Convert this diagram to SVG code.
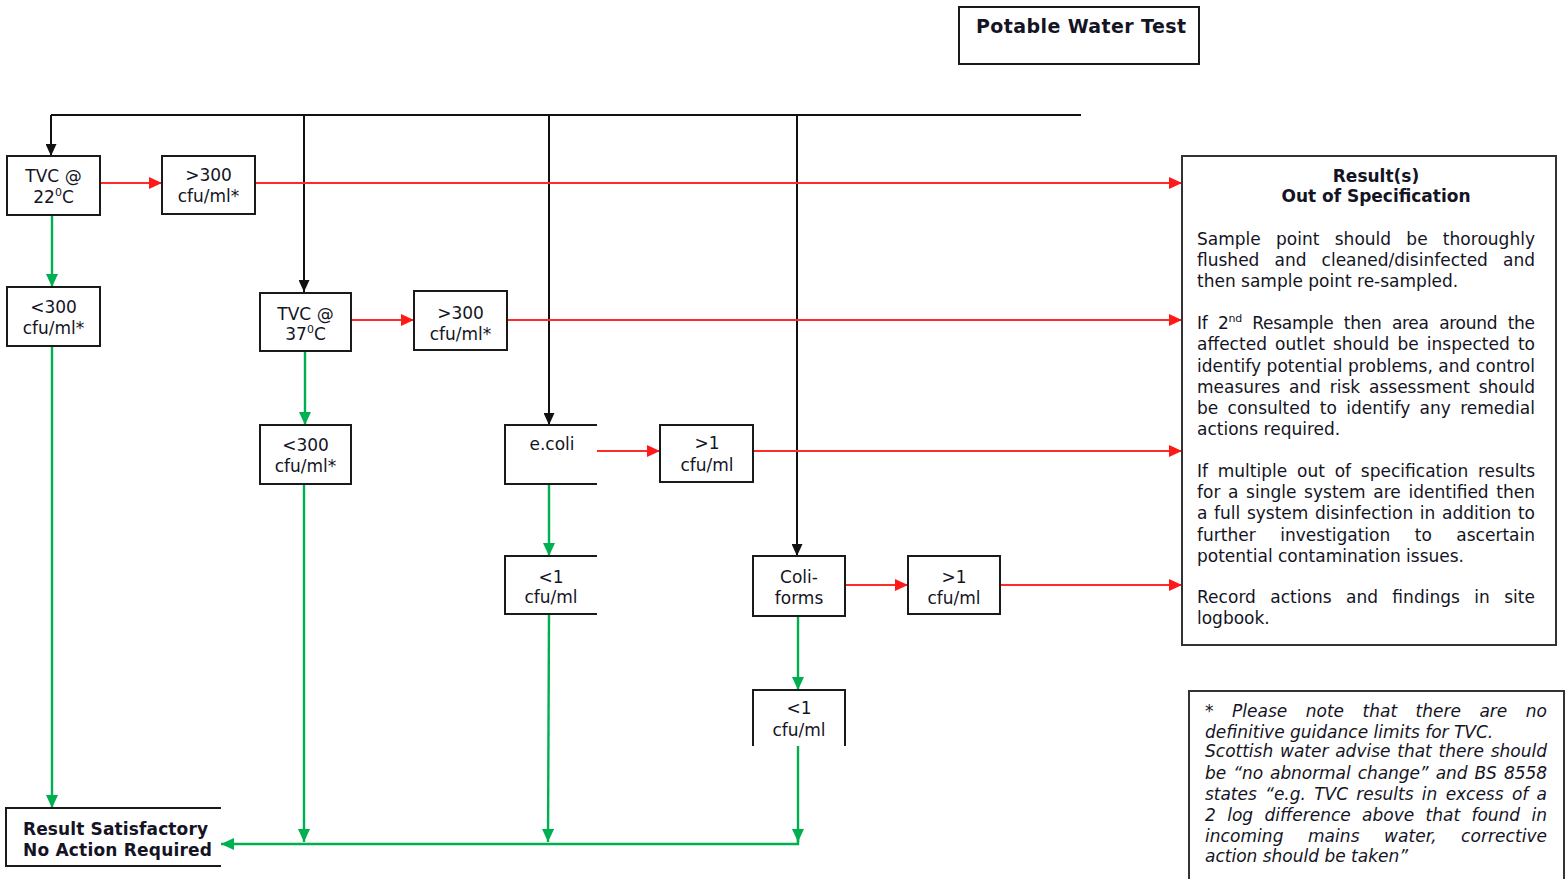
<svg xmlns="http://www.w3.org/2000/svg" width="1566" height="879" viewBox="0 0 1566 879">
  <style>
    .box { fill: #fff; stroke: #1a1a1a; stroke-width: 2; }
    .open { fill: none; stroke: #1a1a1a; stroke-width: 2; }
    .panel { fill: #fff; stroke: #333; stroke-width: 2; }
    .t { font-family: "DejaVu Sans", Verdana, sans-serif; font-size: 17px; fill: #141424; }
    .ttl { font-size: 19px; }
    .c { text-anchor: middle; }
    .b { font-weight: bold; }
    .it { font-style: italic; }
    .blk { fill: none; stroke: #111; stroke-width: 2; }
    .red { fill: none; stroke: #ff2a2a; stroke-width: 2; }
    .grn { fill: none; stroke: #00b050; stroke-width: 2.4; }
  </style>
  <defs>
    <marker id="ah-blk" markerUnits="userSpaceOnUse" markerWidth="12" markerHeight="11" refX="12" refY="5.5" orient="auto">
      <path d="M0,0 L12,5.5 L0,11 z" fill="#111"/>
    </marker>
    <marker id="ah-red" markerUnits="userSpaceOnUse" markerWidth="13" markerHeight="12" refX="13" refY="6" orient="auto">
      <path d="M0,0 L13,6 L0,12 z" fill="#ff1a1a"/>
    </marker>
    <marker id="ah-grn" markerUnits="userSpaceOnUse" markerWidth="13" markerHeight="12" refX="13" refY="6" orient="auto">
      <path d="M0,0 L13,6 L0,12 z" fill="#00b050"/>
    </marker>
  </defs>

  <rect width="1566" height="879" fill="#fff"/>

  <!-- connectors -->
  <g id="connectors">
    <!-- distribution bar from the title -->
    <path class="blk" d="M51,115 H1081"/>
    <path class="blk" d="M51,115 V156" marker-end="url(#ah-blk)"/>
    <path class="blk" d="M304,115 V292" marker-end="url(#ah-blk)"/>
    <path class="blk" d="M549,115 V425" marker-end="url(#ah-blk)"/>
    <path class="blk" d="M797,115 V556" marker-end="url(#ah-blk)"/>

    <!-- out of specification routes -->
    <path class="red" d="M100,183 H162" marker-end="url(#ah-red)"/>
    <path class="red" d="M255,183 H1182" marker-end="url(#ah-red)"/>
    <path class="red" d="M351,320 H414" marker-end="url(#ah-red)"/>
    <path class="red" d="M507,320 H1182" marker-end="url(#ah-red)"/>
    <path class="red" d="M597,451 H660" marker-end="url(#ah-red)"/>
    <path class="red" d="M753,451 H1182" marker-end="url(#ah-red)"/>
    <path class="red" d="M845,585 H908" marker-end="url(#ah-red)"/>
    <path class="red" d="M1000,585 H1182" marker-end="url(#ah-red)"/>

    <!-- satisfactory routes -->
    <path class="grn" d="M52,215 V287" marker-end="url(#ah-grn)"/>
    <path class="grn" d="M52,346 V808" marker-end="url(#ah-grn)"/>
    <path class="grn" d="M305,351 V425" marker-end="url(#ah-grn)"/>
    <path class="grn" d="M304,484 V842" marker-end="url(#ah-grn)"/>
    <path class="grn" d="M549,484 V556" marker-end="url(#ah-grn)"/>
    <path class="grn" d="M549,614 L548,842" marker-end="url(#ah-grn)"/>
    <path class="grn" d="M798,616 V690" marker-end="url(#ah-grn)"/>
    <path class="grn" d="M798,746 V842" marker-end="url(#ah-grn)"/>
    <path class="grn" d="M798,835 V844 H221" marker-end="url(#ah-grn)"/>
  </g>

  <!-- title -->
  <g id="title">
    <rect class="box" x="959" y="7" width="240" height="57"/>
    <text class="t ttl b" x="976" y="33" textLength="210">Potable Water Test</text>
  </g>

  <!-- TVC at 22 degrees -->
  <g id="tvc22">
    <rect class="box" x="7" y="156" width="93" height="59"/>
    <text class="t c" x="53.5" y="182">TVC @</text>
    <text class="t c" x="53.5" y="203">22<tspan font-size="11" dy="-7">0</tspan><tspan dy="7">C</tspan></text>
  </g>
  <g id="tvc22-high">
    <rect class="box" x="162" y="156" width="93" height="58"/>
    <text class="t c" x="208.5" y="181">&gt;300</text>
    <text class="t c" x="208.5" y="202">cfu/ml*</text>
  </g>
  <g id="tvc22-low">
    <rect class="box" x="7" y="287" width="93" height="59"/>
    <text class="t c" x="53.5" y="313">&lt;300</text>
    <text class="t c" x="53.5" y="334">cfu/ml*</text>
  </g>

  <!-- TVC at 37 degrees -->
  <g id="tvc37">
    <rect class="box" x="260" y="293" width="91" height="58"/>
    <text class="t c" x="305.5" y="320">TVC @</text>
    <text class="t c" x="305.5" y="340">37<tspan font-size="11" dy="-7">0</tspan><tspan dy="7">C</tspan></text>
  </g>
  <g id="tvc37-high">
    <rect class="box" x="414" y="291" width="93" height="59"/>
    <text class="t c" x="460.5" y="319">&gt;300</text>
    <text class="t c" x="460.5" y="340">cfu/ml*</text>
  </g>
  <g id="tvc37-low">
    <rect class="box" x="260" y="425" width="91" height="59"/>
    <text class="t c" x="305.5" y="451">&lt;300</text>
    <text class="t c" x="305.5" y="472">cfu/ml*</text>
  </g>

  <!-- E. coli -->
  <g id="ecoli">
    <rect x="505" y="425" width="92" height="59" fill="#fff"/>
    <path class="open" d="M597,425 H505 V484 H597"/>
    <text class="t c" x="552" y="450">e.coli</text>
  </g>
  <g id="ecoli-high">
    <rect class="box" x="660" y="425" width="93" height="57"/>
    <text class="t c" x="707" y="449">&gt;1</text>
    <text class="t c" x="707" y="471">cfu/ml</text>
  </g>
  <g id="ecoli-low">
    <rect x="505" y="556" width="92" height="58" fill="#fff"/>
    <path class="open" d="M597,556 H505 V614 H597"/>
    <text class="t c" x="551" y="583">&lt;1</text>
    <text class="t c" x="551" y="603">cfu/ml</text>
  </g>

  <!-- Coliforms -->
  <g id="coliforms">
    <rect class="box" x="753" y="556" width="92" height="60"/>
    <text class="t c" x="799" y="583">Coli-</text>
    <text class="t c" x="799" y="604">forms</text>
  </g>
  <g id="coliforms-high">
    <rect class="box" x="908" y="556" width="92" height="58"/>
    <text class="t c" x="954" y="583">&gt;1</text>
    <text class="t c" x="954" y="604">cfu/ml</text>
  </g>
  <g id="coliforms-low">
    <rect x="753" y="690" width="92" height="56" fill="#fff"/>
    <path class="open" d="M753,746 V690 H845 V746"/>
    <text class="t c" x="799" y="714">&lt;1</text>
    <text class="t c" x="799" y="736">cfu/ml</text>
  </g>

  <!-- satisfactory outcome -->
  <g id="satisfactory">
    <rect x="6" y="808" width="215" height="58" fill="#fff"/>
    <path class="open" d="M221,808 H6 V866 H221"/>
    <text class="t b" x="23" y="835" textLength="185">Result Satisfactory</text>
    <text class="t b" x="23" y="856" textLength="189">No Action Required</text>
  </g>

  <!-- out of specification outcome -->
  <g id="out-of-spec">
    <rect class="panel" x="1182" y="156" width="374" height="489"/>
    <text class="t b c" x="1376" y="182">Result(s)</text>
    <text class="t b c" x="1376" y="202" textLength="189">Out of Specification</text>

    <text class="t" x="1197" y="245" word-spacing="9.8" textLength="338">Sample point should be thoroughly</text>
    <text class="t" x="1197" y="266" word-spacing="9.7" textLength="338">flushed and cleaned/disinfected and</text>
    <text class="t" x="1197" y="287">then sample point re-sampled.</text>

    <text class="t" x="1197" y="329" word-spacing="5.4" textLength="338">If 2<tspan font-size="11" dy="-7">nd</tspan><tspan dy="7"> Resample then area around the</tspan></text>
    <text class="t" x="1197" y="350" word-spacing="2.7" textLength="338">affected outlet should be inspected to</text>
    <text class="t" x="1197" y="372" textLength="338">identify potential problems, and control</text>
    <text class="t" x="1197" y="393" word-spacing="3.4" textLength="338">measures and risk assessment should</text>
    <text class="t" x="1197" y="414" word-spacing="3.9" textLength="338">be consulted to identify any remedial</text>
    <text class="t" x="1197" y="435">actions required.</text>

    <text class="t" x="1197" y="477" word-spacing="4.3" textLength="338">If multiple out of specification results</text>
    <text class="t" x="1197" y="498" word-spacing="2.2" textLength="338">for a single system are identified then</text>
    <text class="t" x="1197" y="519" word-spacing="1.2" textLength="338">a full system disinfection in addition to</text>
    <text class="t" x="1197" y="541" word-spacing="19.1" textLength="338">further investigation to ascertain</text>
    <text class="t" x="1197" y="562">potential contamination issues.</text>

    <text class="t" x="1197" y="603" word-spacing="8.9" textLength="338">Record actions and findings in site</text>
    <text class="t" x="1197" y="624">logbook.</text>
  </g>

  <!-- TVC guidance note -->
  <g id="tvc-note">
    <rect class="panel" x="1189" y="691" width="375" height="200"/>
    <text class="t it" x="1205" y="717" word-spacing="13.1" textLength="342">* Please note that there are no</text>
    <text class="t it" x="1205" y="738">definitive guidance limits for TVC.</text>
    <text class="t it" x="1205" y="757" word-spacing="1.4" textLength="342">Scottish water advise that there should</text>
    <text class="t it" x="1205" y="779" word-spacing="1.7" textLength="342">be “no abnormal change” and BS 8558</text>
    <text class="t it" x="1205" y="800" word-spacing="3" textLength="342">states “e.g. TVC results in excess of a</text>
    <text class="t it" x="1205" y="821" word-spacing="6" textLength="342">2 log difference above that found in</text>
    <text class="t it" x="1205" y="842" word-spacing="19" textLength="342">incoming mains water, corrective</text>
    <text class="t it" x="1205" y="862">action should be taken”</text>
  </g>
</svg>
